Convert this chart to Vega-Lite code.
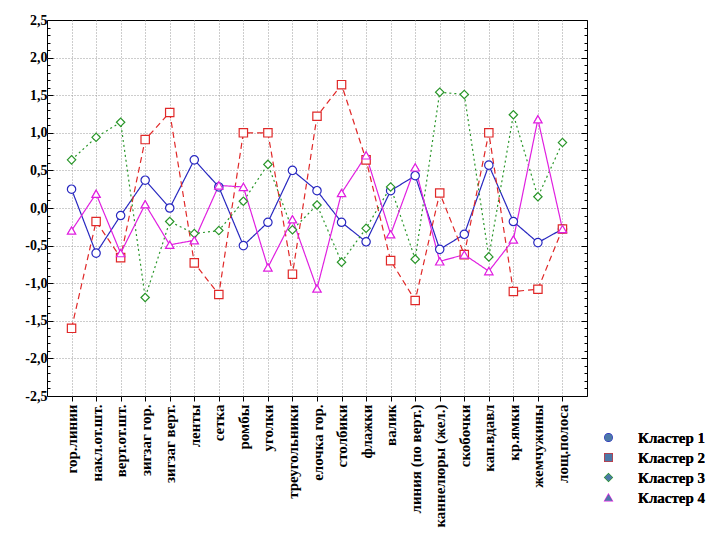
{
  "$schema": "https://vega.github.io/schema/vega-lite/v6.json",
  "autosize": {"type": "none"},
  "padding": {"left": 47, "top": 20, "right": 141, "bottom": 149},
  "width": 540,
  "height": 376,
  "background": "white",
  "config": {
    "view": {"stroke": "black", "strokeWidth": 1},
    "font": "Liberation Serif"
  },
  "datasets": {
    "d": [
      {"cat": "гор.линии", "cluster": "Кластер  1", "value": 0.25},
      {"cat": "накл.от.шт.", "cluster": "Кластер  1", "value": -0.6},
      {"cat": "верт.от.шт.", "cluster": "Кластер  1", "value": -0.1},
      {"cat": "зигзаг гор.", "cluster": "Кластер  1", "value": 0.37},
      {"cat": "зигзаг верт.", "cluster": "Кластер  1", "value": 0.0},
      {"cat": "ленты", "cluster": "Кластер  1", "value": 0.64},
      {"cat": "сетка", "cluster": "Кластер  1", "value": 0.28},
      {"cat": "ромбы", "cluster": "Кластер  1", "value": -0.5},
      {"cat": "уголки", "cluster": "Кластер  1", "value": -0.19},
      {"cat": "треугольники", "cluster": "Кластер  1", "value": 0.5},
      {"cat": "елочка гор.", "cluster": "Кластер  1", "value": 0.23},
      {"cat": "столбики", "cluster": "Кластер  1", "value": -0.19},
      {"cat": "флажки", "cluster": "Кластер  1", "value": -0.45},
      {"cat": "валик", "cluster": "Кластер  1", "value": 0.23},
      {"cat": "линия (по верт.)", "cluster": "Кластер  1", "value": 0.43},
      {"cat": "каннелюры (жел.)", "cluster": "Кластер  1", "value": -0.55},
      {"cat": "скобочки", "cluster": "Кластер  1", "value": -0.35},
      {"cat": "кап.вдавл", "cluster": "Кластер  1", "value": 0.57},
      {"cat": "кр.ямки", "cluster": "Кластер  1", "value": -0.18},
      {"cat": "жемчужины", "cluster": "Кластер  1", "value": -0.46},
      {"cat": "лощ.полоса", "cluster": "Кластер  1", "value": -0.28},

      {"cat": "гор.линии", "cluster": "Кластер  2", "value": -1.6},
      {"cat": "накл.от.шт.", "cluster": "Кластер  2", "value": -0.18},
      {"cat": "верт.от.шт.", "cluster": "Кластер  2", "value": -0.66},
      {"cat": "зигзаг гор.", "cluster": "Кластер  2", "value": 0.91},
      {"cat": "зигзаг верт.", "cluster": "Кластер  2", "value": 1.27},
      {"cat": "ленты", "cluster": "Кластер  2", "value": -0.73},
      {"cat": "сетка", "cluster": "Кластер  2", "value": -1.15},
      {"cat": "ромбы", "cluster": "Кластер  2", "value": 1.0},
      {"cat": "уголки", "cluster": "Кластер  2", "value": 1.0},
      {"cat": "треугольники", "cluster": "Кластер  2", "value": -0.88},
      {"cat": "елочка гор.", "cluster": "Кластер  2", "value": 1.22},
      {"cat": "столбики", "cluster": "Кластер  2", "value": 1.64},
      {"cat": "флажки", "cluster": "Кластер  2", "value": 0.64},
      {"cat": "валик", "cluster": "Кластер  2", "value": -0.7},
      {"cat": "линия (по верт.)", "cluster": "Кластер  2", "value": -1.23},
      {"cat": "каннелюры (жел.)", "cluster": "Кластер  2", "value": 0.2},
      {"cat": "скобочки", "cluster": "Кластер  2", "value": -0.62},
      {"cat": "кап.вдавл", "cluster": "Кластер  2", "value": 1.0},
      {"cat": "кр.ямки", "cluster": "Кластер  2", "value": -1.11},
      {"cat": "жемчужины", "cluster": "Кластер  2", "value": -1.08},
      {"cat": "лощ.полоса", "cluster": "Кластер  2", "value": -0.28},

      {"cat": "гор.линии", "cluster": "Кластер  3", "value": 0.64},
      {"cat": "накл.от.шт.", "cluster": "Кластер  3", "value": 0.94},
      {"cat": "верт.от.шт.", "cluster": "Кластер  3", "value": 1.14},
      {"cat": "зигзаг гор.", "cluster": "Кластер  3", "value": -1.19},
      {"cat": "зигзаг верт.", "cluster": "Кластер  3", "value": -0.18},
      {"cat": "ленты", "cluster": "Кластер  3", "value": -0.34},
      {"cat": "сетка", "cluster": "Кластер  3", "value": -0.3},
      {"cat": "ромбы", "cluster": "Кластер  3", "value": 0.09},
      {"cat": "уголки", "cluster": "Кластер  3", "value": 0.58},
      {"cat": "треугольники", "cluster": "Кластер  3", "value": -0.29},
      {"cat": "елочка гор.", "cluster": "Кластер  3", "value": 0.04},
      {"cat": "столбики", "cluster": "Кластер  3", "value": -0.72},
      {"cat": "флажки", "cluster": "Кластер  3", "value": -0.27},
      {"cat": "валик", "cluster": "Кластер  3", "value": 0.28},
      {"cat": "линия (по верт.)", "cluster": "Кластер  3", "value": -0.68},
      {"cat": "каннелюры (жел.)", "cluster": "Кластер  3", "value": 1.54},
      {"cat": "скобочки", "cluster": "Кластер  3", "value": 1.51},
      {"cat": "кап.вдавл", "cluster": "Кластер  3", "value": -0.65},
      {"cat": "кр.ямки", "cluster": "Кластер  3", "value": 1.24},
      {"cat": "жемчужины", "cluster": "Кластер  3", "value": 0.15},
      {"cat": "лощ.полоса", "cluster": "Кластер  3", "value": 0.87},

      {"cat": "гор.линии", "cluster": "Кластер  4", "value": -0.3},
      {"cat": "накл.от.шт.", "cluster": "Кластер  4", "value": 0.19},
      {"cat": "верт.от.шт.", "cluster": "Кластер  4", "value": -0.6},
      {"cat": "зигзаг гор.", "cluster": "Кластер  4", "value": 0.05},
      {"cat": "зигзаг верт.", "cluster": "Кластер  4", "value": -0.49},
      {"cat": "ленты", "cluster": "Кластер  4", "value": -0.43},
      {"cat": "сетка", "cluster": "Кластер  4", "value": 0.3},
      {"cat": "ромбы", "cluster": "Кластер  4", "value": 0.28},
      {"cat": "уголки", "cluster": "Кластер  4", "value": -0.79},
      {"cat": "треугольники", "cluster": "Кластер  4", "value": -0.15},
      {"cat": "елочка гор.", "cluster": "Кластер  4", "value": -1.07},
      {"cat": "столбики", "cluster": "Кластер  4", "value": 0.2},
      {"cat": "флажки", "cluster": "Кластер  4", "value": 0.7},
      {"cat": "валик", "cluster": "Кластер  4", "value": -0.35},
      {"cat": "линия (по верт.)", "cluster": "Кластер  4", "value": 0.54},
      {"cat": "каннелюры (жел.)", "cluster": "Кластер  4", "value": -0.71},
      {"cat": "скобочки", "cluster": "Кластер  4", "value": -0.62},
      {"cat": "кап.вдавл", "cluster": "Кластер  4", "value": -0.84},
      {"cat": "кр.ямки", "cluster": "Кластер  4", "value": -0.42},
      {"cat": "жемчужины", "cluster": "Кластер  4", "value": 1.18},
      {"cat": "лощ.полоса", "cluster": "Кластер  4", "value": -0.28}
    ]
  },
  "data": {"name": "d"},
  "encoding": {
    "x": {
      "field": "cat", "type": "nominal", "sort": null,
      "scale": {"type": "point", "padding": 1},
      "axis": {
        "title": null, "domain": false, "labelAngle": -90,
        "labelFont": "Liberation Serif", "labelFontSize": 15, "labelFontWeight": "bold",
        "labelColor": "black", "labelPadding": 3, "tickSize": 5, "tickColor": "black",
        "grid": true, "gridDash": [1, 2], "gridColor": "#9a9a9a", "labelLimit": 200
      }
    },
    "y": {
      "field": "value", "type": "quantitative",
      "scale": {"domain": [-2.5, 2.5], "nice": false, "zero": false}
    },
    "stroke": {
      "field": "cluster", "type": "nominal",
      "scale": {"range": ["#2828c0", "#e02828", "#2a962a", "#e020e0"]},
      "legend": {
        "title": null, "orient": "none", "legendX": 554, "legendY": 410,
        "labelFont": "Liberation Serif", "labelFontSize": 15, "labelFontWeight": "bold",
        "labelColor": "black", "symbolSize": 60, "symbolStrokeWidth": 1.2,
        "rowPadding": 4, "labelOffset": 22,
        "encode": {"symbols": {"update": {
          "shape": {"scale": "shape", "field": "value"},
          "stroke": {"scale": "stroke", "field": "value"},
          "strokeWidth": {"value": 1.2},
          "opacity": {"value": 1}
        }}}
      }
    },
    "shape": {
      "field": "cluster", "type": "nominal",
      "scale": {"range": ["circle", "square", "diamond", "triangle-up"]},
      "legend": {
        "title": null, "orient": "none", "legendX": 554, "legendY": 410,
        "labelFont": "Liberation Serif", "labelFontSize": 15, "labelFontWeight": "bold",
        "labelColor": "black", "symbolSize": 60, "symbolStrokeWidth": 1.2,
        "rowPadding": 4, "labelOffset": 22,
        "encode": {"symbols": {"update": {
          "shape": {"scale": "shape", "field": "value"},
          "stroke": {"scale": "stroke", "field": "value"},
          "strokeWidth": {"value": 1.2},
          "opacity": {"value": 1}
        }}}
      }
    }
  },
  "layer": [
    {
      "mark": {"type": "line", "strokeWidth": 1.2},
      "encoding": {
        "y": {
          "field": "value", "type": "quantitative",
          "axis": {
            "title": null, "domain": false, "orient": "left",
            "values": [-2.5, -2.4, -2.3, -2.2, -2.1, -2.0, -1.9, -1.8, -1.7, -1.6, -1.5, -1.4, -1.3, -1.2, -1.1, -1.0, -0.9, -0.8, -0.7, -0.6, -0.5, -0.4, -0.3, -0.2, -0.1, 0, 0.1, 0.2, 0.3, 0.4, 0.5, 0.6, 0.7, 0.8, 0.9, 1.0, 1.1, 1.2, 1.3, 1.4, 1.5, 1.6, 1.7, 1.8, 1.9, 2.0, 2.1, 2.2, 2.3, 2.4, 2.5],
            "labelExpr": "abs(datum.value*2 - round(datum.value*2)) < 0.01 ? replace(replace(format(datum.value, '.1f'), '.', ','), '−', '-') : ''",
            "labelFont": "Liberation Serif", "labelFontSize": 14, "labelFontWeight": "bold",
            "labelColor": "black", "labelPadding": 6,
            "tickColor": "black",
            "tickSize": {"condition": {"test": "abs(datum.value*2 - round(datum.value*2)) < 0.01", "value": -6}, "value": -3},
            "grid": true, "gridDash": [1, 2], "gridColor": "#9a9a9a",
            "gridOpacity": {"condition": {"test": "abs(datum.value*2 - round(datum.value*2)) < 0.01 && abs(datum.value) < 2.45", "value": 1}, "value": 0}
          }
        },
        "strokeDash": {
          "field": "cluster", "type": "nominal",
          "scale": {"range": [[1, 0], [6, 4], [2, 3], [1, 0]]},
          "legend": null
        }
      }
    },
    {
      "mark": {"type": "point", "filled": false, "size": 70, "strokeWidth": 1.2, "opacity": 1},
      "encoding": {
        "y": {"field": "value", "type": "quantitative", "axis": null},
        "fill": {"value": "white"}
      }
    },
    {
      "mark": {"type": "point", "filled": false, "opacity": 0},
      "encoding": {
        "y": {
          "field": "value", "type": "quantitative",
          "axis": {
            "title": null, "domain": false, "orient": "right", "labels": false, "grid": false,
            "values": [-2.5, -2.4, -2.3, -2.2, -2.1, -2.0, -1.9, -1.8, -1.7, -1.6, -1.5, -1.4, -1.3, -1.2, -1.1, -1.0, -0.9, -0.8, -0.7, -0.6, -0.5, -0.4, -0.3, -0.2, -0.1, 0, 0.1, 0.2, 0.3, 0.4, 0.5, 0.6, 0.7, 0.8, 0.9, 1.0, 1.1, 1.2, 1.3, 1.4, 1.5, 1.6, 1.7, 1.8, 1.9, 2.0, 2.1, 2.2, 2.3, 2.4, 2.5],
            "tickColor": "black",
            "tickSize": {"condition": {"test": "abs(datum.value*2 - round(datum.value*2)) < 0.01", "value": -6}, "value": -3}
          }
        }
      }
    }
  ],
  "resolve": {"axis": {"y": "independent"}}
}
